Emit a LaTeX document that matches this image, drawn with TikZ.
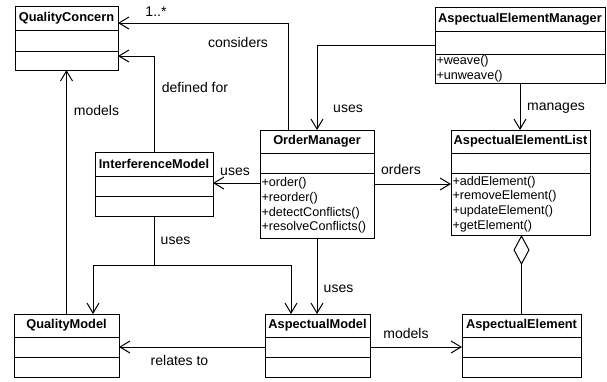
\documentclass[tikz,border=0pt]{standalone}
\usepackage{fontspec}
\setmainfont{Liberation Sans}
\usetikzlibrary{arrows.meta}

\tikzset{
  classname/.style={draw, line width=1pt, inner sep=0pt, outer sep=0pt, anchor=north west,
    font=\fontsize{12.8}{15}\selectfont\bfseries},
  compart/.style={draw, line width=1pt, inner sep=0pt, outer sep=0pt, anchor=north west},
  methods/.style={compart, align=left, inner xsep=1.5pt, font=\fontsize{12.6}{14.7}\selectfont},
  assoc/.style={line width=1pt, -{Straight Barb[length=10pt,width=12pt]}},
  aggr/.style={line width=1pt, -{Diamond[open,length=30pt,width=16pt]}},
  lbl/.style={anchor=base, inner sep=0pt, font=\fontsize{14}{16}\selectfont},
}

\begin{document}
\begin{tikzpicture}[x=1pt, y=-1pt]
    \useasboundingbox (0,0) rectangle (607,381);

    % classes
    \node[classname, minimum width=103, minimum height=24] (qc) at (15,6) {QualityConcern};
    \node[compart, minimum width=103, minimum height=21] (qca) at (qc.south west) {};
    \node[compart, minimum width=103, minimum height=19] (qco) at (qca.south west) {};

    \node[classname, minimum width=170, minimum height=24] (aem) at (435,7) {AspectualElementManager};
    \node[compart, minimum width=170, minimum height=23] (aema) at (aem.south west) {};
    \node[methods, text width=167, minimum width=170, minimum height=29] (aemo) at (aema.south west) {+weave()\\+unweave()};

    \node[classname, minimum width=114, minimum height=23] (om) at (260,130) {OrderManager};
    \node[compart, minimum width=114, minimum height=20] (oma) at (om.south west) {};
    \node[methods, text width=111, minimum width=114, minimum height=65] (omo) at (oma.south west) {+order()\\+reorder()\\+detectConflicts()\\+resolveConflicts()};

    \node[classname, minimum width=139, minimum height=23] (ael) at (451,130) {AspectualElementList};
    \node[compart, minimum width=139, minimum height=20] (aela) at (ael.south west) {};
    \node[methods, text width=136, minimum width=139, minimum height=62] (aelo) at (aela.south west) {+addElement()\\+removeElement()\\+updateElement()\\+getElement()};

    \node[classname, minimum width=118, minimum height=24] (im) at (95,152) {InterferenceModel};
    \node[compart, minimum width=118, minimum height=20] (ima) at (im.south west) {};
    \node[compart, minimum width=118, minimum height=20] (imo) at (ima.south west) {};

    \node[classname, minimum width=105, minimum height=23] (qm) at (14,314) {QualityModel};
    \node[compart, minimum width=105, minimum height=20] (qma) at (qm.south west) {};
    \node[compart, minimum width=105, minimum height=20] (qmo) at (qma.south west) {};

    \node[classname, minimum width=105, minimum height=23] (am) at (265,314) {AspectualModel};
    \node[compart, minimum width=105, minimum height=20] (ama) at (am.south west) {};
    \node[compart, minimum width=105, minimum height=20] (amo) at (ama.south west) {};

    \node[classname, minimum width=119, minimum height=23] (ae) at (462,314) {AspectualElement};
    \node[compart, minimum width=119, minimum height=20] (aea) at (ae.south west) {};
    \node[compart, minimum width=119, minimum height=20] (aeo) at (aea.south west) {};

    % connectors
    \draw[assoc] ([xshift=28pt]om.north west) |- ([yshift=-17pt]qc.north east);
    \draw[assoc] (im.north) |- ([yshift=-5pt]qca.south east);
    \draw[assoc] (qm.north) -- (qco.south);
    \draw[assoc] ([yshift=-2.5pt]aema.west) -| (om.north);
    \draw[assoc] (aemo.south) -- (aemo.south |- ael.north);
    \draw[assoc] ([yshift=-11pt]omo.north east) -- ([yshift=-11pt]omo.north east -| aelo.west);
    \draw[assoc] ([yshift=-10pt]omo.north west) -- ([yshift=-10pt]omo.north west -| ima.east);
    \coordinate (fork) at ([yshift=-49pt]imo.south);
    \draw[line width=1pt] (imo.south) -- (fork);
    \draw[assoc] (fork) -| ([xshift=26.5pt]qm.north);
    \draw[assoc] (fork) -| ([xshift=-26.5pt]am.north);
    \draw[assoc] (omo.south) -- (omo.south |- am.north);
    \draw[assoc] (ama.west) -- (ama.west -| qma.east);
    \draw[assoc] (ama.east) -- (ama.east -| aea.west);
    \draw[aggr] (ae.north) -- (ae.north |- aelo.south);

    % labels
    \node[lbl] (mult) at (156,16) {1..*};
    \node[lbl] (considers) at (238,47) {considers};
    \node[lbl] (definedfor) at (195,92) {defined for};
    \node[lbl] (modelsqc) at (96.5,115) {models};
    \node[lbl] (usesom) at (348,112) {uses};
    \node[lbl] (manages) at (556,110) {manages};
    \node[lbl] (orders) at (401,174) {orders};
    \node[lbl] (usesim) at (235,175) {uses};
    \node[lbl] (usesfork) at (175.5,244) {uses};
    \node[lbl] (usesam) at (338.5,292) {uses};
    \node[lbl] (relates) at (179.5,365) {relates to};
    \node[lbl] (modelsae) at (406,338) {models};
\end{tikzpicture}
\end{document}
